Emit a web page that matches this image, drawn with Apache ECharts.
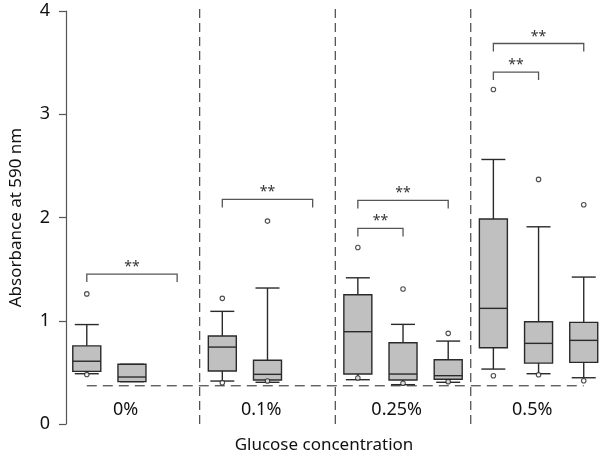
<!DOCTYPE html>
<html>
<head>
<meta charset="utf-8">
<script src="https://cdn.jsdelivr.net/npm/echarts@6/dist/echarts.min.js"></script>
<style>html,body{margin:0;padding:0;background:#fff}#c{width:600px;height:457px}</style>
</head>
<body>
<div id="c"></div>
<script>
// ---- data ----
var groupLabels = ['0%', '0.1%', '0.25%', '0.5%'];
var groupLabelPos = [1.86, 4.86, 7.86, 10.86];
var separators = [3.5, 6.5, 9.5];
var baselineValue = 0.37;
var baselineRange = [1, 12];
var yTicks = [0, 1, 2, 3, 4];

var boxPos      = [1,     2,     4,     5,     7,     8,     9,     10,    11,    12];
var whiskerLow  = [0.487, 0.410, 0.416, 0.404, 0.429, 0.381, 0.404, 0.532, 0.487, 0.448];
var q1          = [0.510, 0.410, 0.513, 0.426, 0.484, 0.426, 0.433, 0.739, 0.590, 0.597];
var median      = [0.608, 0.455, 0.745, 0.481, 0.894, 0.484, 0.468, 1.120, 0.781, 0.810];
var q3          = [0.757, 0.578, 0.852, 0.617, 1.252, 0.787, 0.623, 1.985, 0.990, 0.984];
var whiskerHigh = [0.963, 0.578, 1.091, 1.317, 1.416, 0.965, 0.803, 2.562, 1.910, 1.423];

var outlierPos   = [1,    1,    4,     4,    5,     5,     7,    7,     8,     8,     9,     9,    10,   10,    11,    11,    12,    12];
var outlierValue = [1.26, 0.48, 1.217, 0.40, 1.965, 0.416, 1.71, 0.445, 1.307, 0.394, 0.878, 0.41, 3.24, 0.468, 2.369, 0.477, 2.123, 0.419];

var bracketFrom  = [1,     4,     7,     7,     10,    10];
var bracketTo    = [3,     6,     8,     9,     11,    12];
var bracketValue = [1.452, 2.175, 1.894, 2.165, 3.408, 3.685];
var bracketText  = ['**', '**', '**', '**', '**', '**'];

// ---- build ----
var FONT = '"Noto Sans", "Open Sans", sans-serif';
var boxData = boxPos.map(function (p, i) {
  return [p, whiskerLow[i], q1[i], median[i], q3[i], whiskerHigh[i]];
});
var outlierData = outlierPos.map(function (p, i) { return [p, outlierValue[i]]; });
var bracketData = bracketFrom.map(function (f, i) { return [f, bracketTo[i], bracketValue[i]]; });
var sepData = separators.map(function (s) { return [s]; });
var labelData = groupLabelPos.map(function (p) { return [p, 0]; });

var chart = echarts.init(document.getElementById('c'), null, {renderer: 'canvas'});
var option = {
  animation: false,
  backgroundColor: '#fff',
  grid: {left: 61, right: 0, top: 11, bottom: 33},
  xAxis: {
    type: 'value', min: 0.54, max: 12.36, show: false
  },
  yAxis: {
    type: 'value', min: yTicks[0], max: yTicks[yTicks.length - 1], interval: 1,
    name: 'Absorbance at 590 nm', nameLocation: 'middle', nameGap: 41,
    nameTextStyle: {fontFamily: FONT, fontSize: 17, color: '#111'},
    axisLine: {show: true, lineStyle: {color: '#555', width: 1.2}},
    axisTick: {show: true, length: 7, lineStyle: {color: '#555', width: 1.2}},
    axisLabel: {fontFamily: FONT, fontSize: 18, color: '#111', margin: 16},
    splitLine: {show: false}
  },
  graphic: [{
    type: 'text', x: 324, y: 445,
    style: {text: 'Glucose concentration', font: '17px ' + FONT, fill: '#111', align: 'center', verticalAlign: 'middle'}
  }],
  series: [
    { // vertical separators
      type: 'custom', data: sepData, clip: false, silent: true,
      renderItem: function (params, api) {
        var b = api.coord([api.value(0), 0]);
        var t = api.coord([api.value(0), 4]);
        return {type: 'line', shape: {x1: b[0], y1: b[1], x2: t[0], y2: t[1] - 4},
          style: {stroke: '#222', lineWidth: 1, lineDash: [9, 5]}};
      }
    },
    { // baseline
      type: 'line', data: [[baselineRange[0], baselineValue], [baselineRange[1], baselineValue]],
      symbol: 'none', silent: true,
      lineStyle: {color: '#222', width: 1, type: [10, 6]}
    },
    { // boxes
      type: 'custom', data: boxData, silent: true,
      renderItem: function (params, api) {
        var x = api.value(0);
        var lo = api.coord([x, api.value(1)]);
        var a = api.coord([x, api.value(2)]);
        var m = api.coord([x, api.value(3)]);
        var b = api.coord([x, api.value(4)]);
        var hi = api.coord([x, api.value(5)]);
        var cx = lo[0], hw = 14, cw = 12;
        var ls = {stroke: '#2a2a2a', lineWidth: 1.4};
        return {type: 'group', children: [
          {type: 'line', shape: {x1: cx, y1: b[1], x2: cx, y2: hi[1]}, style: ls},
          {type: 'line', shape: {x1: cx, y1: a[1], x2: cx, y2: lo[1]}, style: ls},
          {type: 'line', shape: {x1: cx - cw, y1: hi[1], x2: cx + cw, y2: hi[1]}, style: ls},
          {type: 'line', shape: {x1: cx - cw, y1: lo[1], x2: cx + cw, y2: lo[1]}, style: ls},
          {type: 'rect', shape: {x: cx - hw, y: b[1], width: 2 * hw, height: a[1] - b[1]},
            style: {fill: '#c0c0c0', stroke: '#2a2a2a', lineWidth: 1.4}},
          {type: 'line', shape: {x1: cx - hw, y1: m[1], x2: cx + hw, y2: m[1]}, style: ls}
        ]};
      }
    },
    { // outliers
      type: 'scatter', data: outlierData, symbol: 'circle', symbolSize: 4.5, silent: true,
      itemStyle: {color: '#fff', borderColor: '#222', borderWidth: 1.1}, z: 5
    },
    { // significance brackets
      type: 'custom', data: bracketData, clip: false, silent: true,
      renderItem: function (params, api) {
        var p1 = api.coord([api.value(0), api.value(2)]);
        var p2 = api.coord([api.value(1), api.value(2)]);
        var txt = bracketText[params.dataIndex];
        return {type: 'group', children: [
          {type: 'polyline', shape: {points: [[p1[0], p1[1] + 8], [p1[0], p1[1]], [p2[0], p2[1]], [p2[0], p2[1] + 8]]},
            style: {stroke: '#555', lineWidth: 1.3, fill: null}},
          {type: 'text', x: (p1[0] + p2[0]) / 2, y: p1[1] - 7,
            style: {text: txt, font: '14px ' + FONT, fill: '#333', align: 'center', verticalAlign: 'middle'}}
        ]};
      }
    },
    { // group labels
      type: 'custom', data: labelData, clip: false, silent: true,
      renderItem: function (params, api) {
        var p = api.coord([api.value(0), api.value(1)]);
        return {type: 'text', x: p[0], y: p[1] - 14,
          style: {text: groupLabels[params.dataIndex], font: '18px ' + FONT, fill: '#111', align: 'center', verticalAlign: 'middle'}};
      }
    }
  ]
};
chart.setOption(option);
</script>
</body>
</html>
